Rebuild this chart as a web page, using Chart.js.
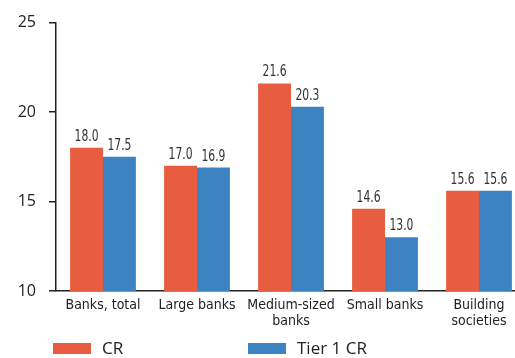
<!DOCTYPE html>
<html>
<head>
<meta charset="utf-8">
<script src="https://cdn.jsdelivr.net/npm/chart.js@4/dist/chart.umd.min.js"></script>
<style>
  html, body { margin: 0; padding: 0; background: #fff; overflow: hidden; }
  #wrap { width: 515px; height: 358px; position: relative; }
</style>
</head>
<body>
<div id="wrap"><canvas id="c"></canvas></div>
<script>
// Capital ratios by bank group, per cent
const categories = [
  ['Banks, total'],
  ['Large banks'],
  ['Medium-sized', 'banks'],
  ['Small banks'],
  ['Building', 'societies']
];
const crValues = [18.0, 17.0, 21.6, 14.6, 15.6];
const tier1Values = [17.5, 16.9, 20.3, 13.0, 15.6];
const seriesNames = ['CR', 'Tier 1 CR'];
const yTicks = [10, 15, 20, 25];

const RED = '#E85D3F';
const BLUE = '#3D83C2';
const INK = '#222222';
const NARROW = "'DejaVu Sans Condensed', 'Liberation Sans Narrow', 'Liberation Sans', sans-serif";
const REGULAR = "'Open Sans', 'Noto Sans', sans-serif";

const toPoints = vals => vals.map((v, i) => ({ x: i, y: v }));

// value printed above each bar, in a squeezed face
const barValueLabels = {
  id: 'barValueLabels',
  afterDatasetsDraw(chart) {
    const ctx = chart.ctx;
    const squeeze = 0.8;
    ctx.save();
    ctx.font = '15px ' + NARROW;
    ctx.fillStyle = '#333';
    ctx.textAlign = 'center';
    ctx.textBaseline = 'alphabetic';
    chart.data.datasets.forEach((ds, di) => {
      chart.getDatasetMeta(di).data.forEach((bar, i) => {
        ctx.save();
        ctx.translate(bar.x, bar.y - 7);
        ctx.scale(squeeze, 1);
        ctx.fillText(ds.data[i].y.toFixed(1), 0, 0);
        ctx.restore();
      });
    });
    ctx.restore();
  }
};

// legend row along the bottom edge
const bottomLegend = {
  id: 'bottomLegend',
  afterDraw(chart) {
    const ctx = chart.ctx;
    const starts = [53, 248];
    ctx.save();
    ctx.font = '17px ' + REGULAR;
    ctx.textBaseline = 'middle';
    ctx.textAlign = 'left';
    chart.data.datasets.forEach((ds, i) => {
      const x = starts[i];
      ctx.fillStyle = ds.backgroundColor;
      ctx.fillRect(x, 343, 38, 11);
      ctx.fillStyle = INK;
      ctx.fillText(ds.label, x + 49, 349);
    });
    ctx.restore();
  }
};

new Chart(document.getElementById('c'), {
  type: 'bar',
  data: {
    datasets: [
      { label: seriesNames[0], data: toPoints(crValues), backgroundColor: RED },
      { label: seriesNames[1], data: toPoints(tier1Values), backgroundColor: BLUE }
    ]
  },
  options: {
    responsive: true,
    maintainAspectRatio: false,
    animation: false,
    events: [],
    layout: { padding: { top: 22, right: 0, left: 0, bottom: 0 } },
    datasets: { bar: { categoryPercentage: 0.7, barPercentage: 1.0 } },
    plugins: { legend: { display: false }, tooltip: { enabled: false } },
    scales: {
      x: {
        type: 'linear',
        min: -0.5,
        max: 4.383,
        offset: false,
        afterBuildTicks(scale) {
          scale.ticks = categories.map((_, i) => ({ value: i }));
        },
        afterFit(scale) { scale.height = 67; },
        grid: { display: false, drawTicks: false },
        border: { display: true, color: INK, width: 1.5 },
        ticks: {
          autoSkip: false,
          maxRotation: 0,
          padding: 6,
          color: INK,
          font: { family: NARROW, size: 14, lineHeight: 1.15 },
          callback: v => categories[v]
        }
      },
      y: {
        min: 10,
        max: 25,
        afterBuildTicks(scale) {
          scale.ticks = yTicks.map(v => ({ value: v }));
        },
        afterFit(scale) { scale.width = 56; },
        grid: { drawOnChartArea: false, drawTicks: true, tickLength: 7, color: INK, lineWidth: 1.5 },
        border: { display: true, color: INK, width: 1.5 },
        ticks: {
          padding: 13,
          color: INK,
          font: { family: REGULAR, size: 16 }
        }
      }
    }
  },
  plugins: [barValueLabels, bottomLegend]
});
</script>
</body>
</html>
